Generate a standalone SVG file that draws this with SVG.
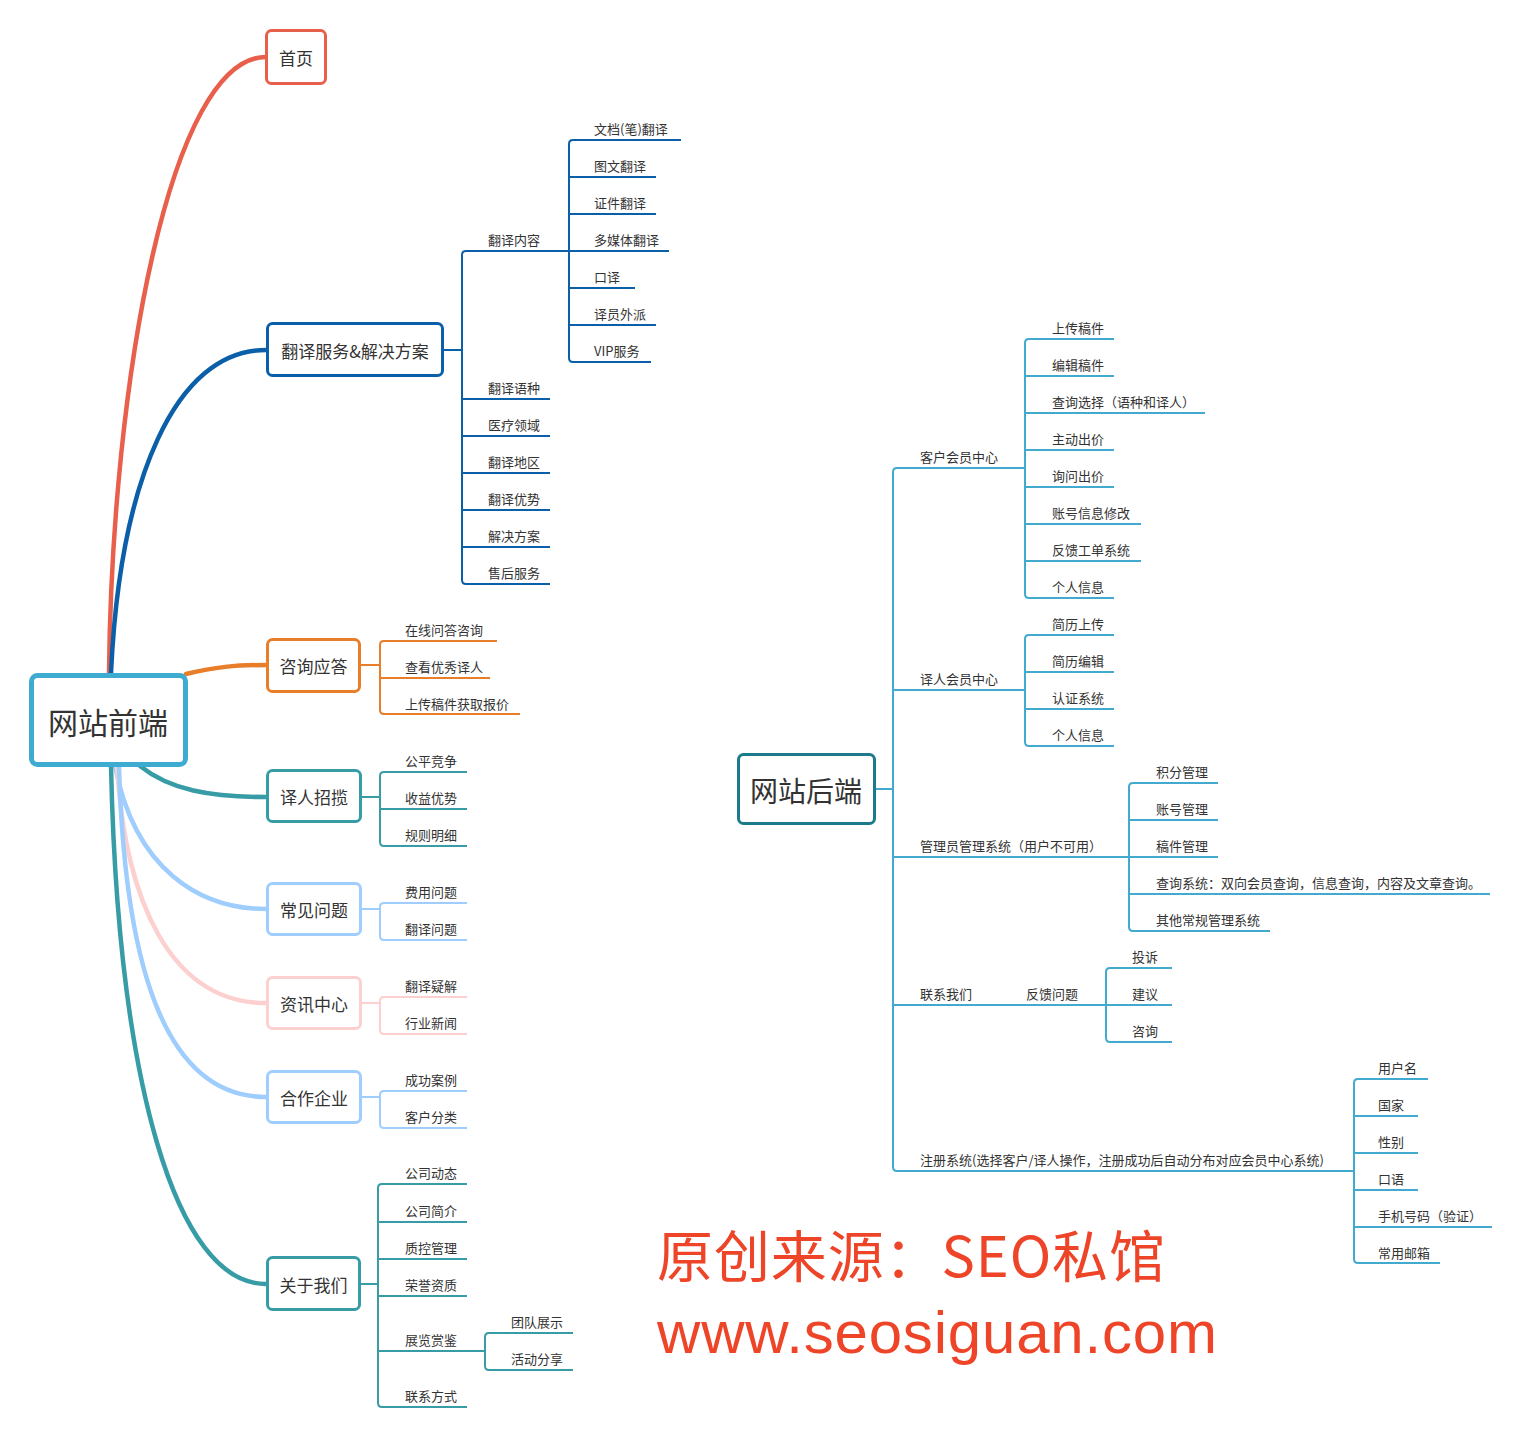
<svg xmlns="http://www.w3.org/2000/svg" width="1521" height="1438" viewBox="0 0 1521 1438">
<style>
text{font-family:"Noto Sans CJK SC","Liberation Sans",sans-serif;fill:#333;dominant-baseline:central}
.s{font-size:13px}
.b{font-size:17px;text-anchor:middle}
.box{fill:#fff;stroke-width:3}
.c{fill:none;stroke-width:4.5;stroke-linecap:round}
.l{fill:none;stroke-width:2}
.red{stroke:#e8604c}.blue{stroke:#0b5fa8}.org{stroke:#e87e2a}.teal{stroke:#379ca6}.lb{stroke:#9fcdfd}.pk{stroke:#fdd0d0}.be{stroke:#42a9cf}
</style>
<rect width="1521" height="1438" fill="#fff"/>
<g id="connectors">
<path class="c red" d="M109,673 C112,380 170,57 266,57"/>
<path class="c blue" d="M111,673 C120,480 175,350 266,350"/>
<path class="c org" d="M186,674 C215,667 235,665 266,665"/>
<path class="c teal" d="M140,766 C170,790 210,797 266,797"/>
<path class="c lb" d="M115,766 C135,870 200,909 266,909"/>
<path class="c pk" d="M117,766 C125,900 170,1003 266,1003"/>
<path class="c lb" d="M119,766 C125,980 170,1097 266,1097"/>
<path class="c teal" d="M111,766 C118,1080 175,1284 266,1284"/>
<g class="l blue">
<path d="M443,350 H462"/>
<path d="M569,251 H466 Q462,251 462,255 V580 Q462,584 466,584 H550"/>
<path d="M462,399 H550 M462,436 H550 M462,473 H550 M462,510 H550 M462,547 H550"/>
<path d="M681,140 H573 Q569,140 569,144 V358 Q569,362 573,362 H651"/>
<path d="M569,177 H656 M569,214 H656 M569,251 H669 M569,288 H635 M569,325 H656"/>
</g>
<g class="l org">
<path d="M360,665 H380"/>
<path d="M497,641 H384 Q380,641 380,645 V710 Q380,714 384,714 H520"/>
<path d="M380,678 H490"/>
</g>
<g class="l teal">
<path d="M361,797 H380"/>
<path d="M467,772 H384 Q380,772 380,776 V842 Q380,846 384,846 H467"/>
<path d="M380,809 H467"/>
</g>
<g class="l lb">
<path d="M361,909 H380"/>
<path d="M467,903 H384 Q380,903 380,907 V936 Q380,940 384,940 H467"/>
</g>
<g class="l pk">
<path d="M361,1003 H380"/>
<path d="M467,997 H384 Q380,997 380,1001 V1030 Q380,1034 384,1034 H467"/>
</g>
<g class="l lb">
<path d="M361,1097 H380"/>
<path d="M467,1091 H384 Q380,1091 380,1095 V1124 Q380,1128 384,1128 H467"/>
</g>
<g class="l teal">
<path d="M359,1284 H378"/>
<path d="M467,1184 H382 Q378,1184 378,1188 V1403 Q378,1407 382,1407 H467"/>
<path d="M378,1222 H467 M378,1259 H467 M378,1296 H467 M378,1351 H485"/>
<path d="M573,1333 H489 Q485,1333 485,1337 V1366 Q485,1370 489,1370 H573"/>
</g>
<g class="l be">
<path d="M875,789 H893"/>
<path d="M1025,468 H897 Q893,468 893,472 V1167 Q893,1171 897,1171 H1354"/>
<path d="M893,690 H1025 M893,857 H1129 M893,1005 H1106"/>
<path d="M1114,339 H1029 Q1025,339 1025,343 V594 Q1025,598 1029,598 H1114"/>
<path d="M1025,376 H1114 M1025,413 H1205 M1025,450 H1114 M1025,487 H1114 M1025,524 H1141 M1025,561 H1141"/>
<path d="M1114,635 H1029 Q1025,635 1025,639 V742 Q1025,746 1029,746 H1114"/>
<path d="M1025,672 H1114 M1025,709 H1114"/>
<path d="M1218,783 H1133 Q1129,783 1129,787 V927 Q1129,931 1133,931 H1270"/>
<path d="M1129,820 H1218 M1129,857 H1218 M1129,894 H1490"/>
<path d="M1172,968 H1110 Q1106,968 1106,972 V1038 Q1106,1042 1110,1042 H1172"/>
<path d="M1106,1005 H1172"/>
<path d="M1428,1079 H1358 Q1354,1079 1354,1083 V1259 Q1354,1263 1358,1263 H1440"/>
<path d="M1354,1116 H1418 M1354,1153 H1418 M1354,1190 H1418 M1354,1227 H1492"/>
</g>
</g>
<g id="front-root"><rect x="31.5" y="675.5" width="154" height="89" rx="6" fill="#fff" stroke="#3eabd1" stroke-width="5"/><text x="108" y="721" style="font-size:30px;text-anchor:middle">网站前端</text></g>
<g id="n-home"><rect class="box red" x="266.5" y="30.5" width="59" height="53" rx="5"/><text class="b" x="296" y="57">首页</text></g>
<g id="n-fanyi"><rect class="box blue" x="267.5" y="323.5" width="175" height="52" rx="5"/><text class="b" x="355" y="350">翻译服务&amp;解决方案</text></g>
<g id="n-zixun"><rect class="box org" x="267.5" y="639.5" width="92" height="52" rx="5"/><text class="b" x="313.5" y="665.5">咨询应答</text></g>
<g id="n-zhaolan"><rect class="box teal" x="267.5" y="770.5" width="93" height="51" rx="5"/><text class="b" x="314" y="796.5">译人招揽</text></g>
<g id="n-faq"><rect class="box lb" x="267.5" y="883.5" width="93" height="51" rx="5"/><text class="b" x="314" y="909">常见问题</text></g>
<g id="n-news"><rect class="box pk" x="267.5" y="977.5" width="93" height="51" rx="5"/><text class="b" x="314" y="1003">资讯中心</text></g>
<g id="n-coop"><rect class="box lb" x="267.5" y="1071.5" width="93" height="51" rx="5"/><text class="b" x="314" y="1097">合作企业</text></g>
<g id="n-about"><rect class="box teal" x="267.5" y="1257.5" width="92" height="52" rx="5"/><text class="b" x="313.5" y="1284">关于我们</text></g>
<g id="labels-front" class="s">
<text class="s" x="488" y="239">翻译内容</text>
<text class="s" x="594" y="128">文档(笔)翻译</text>
<text class="s" x="594" y="165">图文翻译</text>
<text class="s" x="594" y="202">证件翻译</text>
<text class="s" x="594" y="239">多媒体翻译</text>
<text class="s" x="594" y="276">口译</text>
<text class="s" x="594" y="313">译员外派</text>
<text class="s" x="594" y="350">VIP服务</text>
<text class="s" x="488" y="387">翻译语种</text>
<text class="s" x="488" y="424">医疗领域</text>
<text class="s" x="488" y="461">翻译地区</text>
<text class="s" x="488" y="498">翻译优势</text>
<text class="s" x="488" y="535">解决方案</text>
<text class="s" x="488" y="572">售后服务</text>
<text class="s" x="405" y="629">在线问答咨询</text>
<text class="s" x="405" y="666">查看优秀译人</text>
<text class="s" x="405" y="703">上传稿件获取报价</text>
<text class="s" x="405" y="760">公平竞争</text>
<text class="s" x="405" y="797">收益优势</text>
<text class="s" x="405" y="834">规则明细</text>
<text class="s" x="405" y="891">费用问题</text>
<text class="s" x="405" y="928">翻译问题</text>
<text class="s" x="405" y="985">翻译疑解</text>
<text class="s" x="405" y="1022">行业新闻</text>
<text class="s" x="405" y="1079">成功案例</text>
<text class="s" x="405" y="1116">客户分类</text>
<text class="s" x="405" y="1172">公司动态</text>
<text class="s" x="405" y="1210">公司简介</text>
<text class="s" x="405" y="1247">质控管理</text>
<text class="s" x="405" y="1284">荣誉资质</text>
<text class="s" x="405" y="1339">展览赏鉴</text>
<text class="s" x="405" y="1395">联系方式</text>
<text class="s" x="511" y="1321">团队展示</text>
<text class="s" x="511" y="1358">活动分享</text>
</g>
<g id="back-root"><rect x="738.5" y="754.5" width="136" height="69" rx="5" fill="#fff" stroke="#1c7a8b" stroke-width="3"/><text x="806" y="790" style="font-size:28px;text-anchor:middle">网站后端</text></g>
<g id="labels-back">
<text class="s" x="920" y="456">客户会员中心</text>
<text class="s" x="1052" y="327">上传稿件</text>
<text class="s" x="1052" y="364">编辑稿件</text>
<text class="s" x="1052" y="401">查询选择（语种和译人）</text>
<text class="s" x="1052" y="438">主动出价</text>
<text class="s" x="1052" y="475">询问出价</text>
<text class="s" x="1052" y="512">账号信息修改</text>
<text class="s" x="1052" y="549">反馈工单系统</text>
<text class="s" x="1052" y="586">个人信息</text>
<text class="s" x="920" y="678">译人会员中心</text>
<text class="s" x="1052" y="623">简历上传</text>
<text class="s" x="1052" y="660">简历编辑</text>
<text class="s" x="1052" y="697">认证系统</text>
<text class="s" x="1052" y="734">个人信息</text>
<text class="s" x="920" y="845">管理员管理系统（用户不可用）</text>
<text class="s" x="1156" y="771">积分管理</text>
<text class="s" x="1156" y="808">账号管理</text>
<text class="s" x="1156" y="845">稿件管理</text>
<text class="s" x="1156" y="882">查询系统：双向会员查询，信息查询，内容及文章查询。</text>
<text class="s" x="1156" y="919">其他常规管理系统</text>
<text class="s" x="920" y="993">联系我们</text>
<text class="s" x="1026" y="993">反馈问题</text>
<text class="s" x="1132" y="956">投诉</text>
<text class="s" x="1132" y="993">建议</text>
<text class="s" x="1132" y="1030">咨询</text>
<text class="s" x="920" y="1159">注册系统(选择客户/译人操作，注册成功后自动分布对应会员中心系统)</text>
<text class="s" x="1378" y="1067">用户名</text>
<text class="s" x="1378" y="1104">国家</text>
<text class="s" x="1378" y="1141">性别</text>
<text class="s" x="1378" y="1178">口语</text>
<text class="s" x="1378" y="1215">手机号码（验证）</text>
<text class="s" x="1378" y="1252">常用邮箱</text>
</g>
<g id="watermark">
<text x="657" y="1277" textLength="508" style="font-size:56px;fill:#ee4428;dominant-baseline:alphabetic">原创来源：SEO私馆</text>
<text x="657" y="1353" textLength="560" style="font-family:'Liberation Sans',sans-serif;font-size:60px;fill:#ee4428;dominant-baseline:alphabetic">www.seosiguan.com</text>
</g>
</svg>
